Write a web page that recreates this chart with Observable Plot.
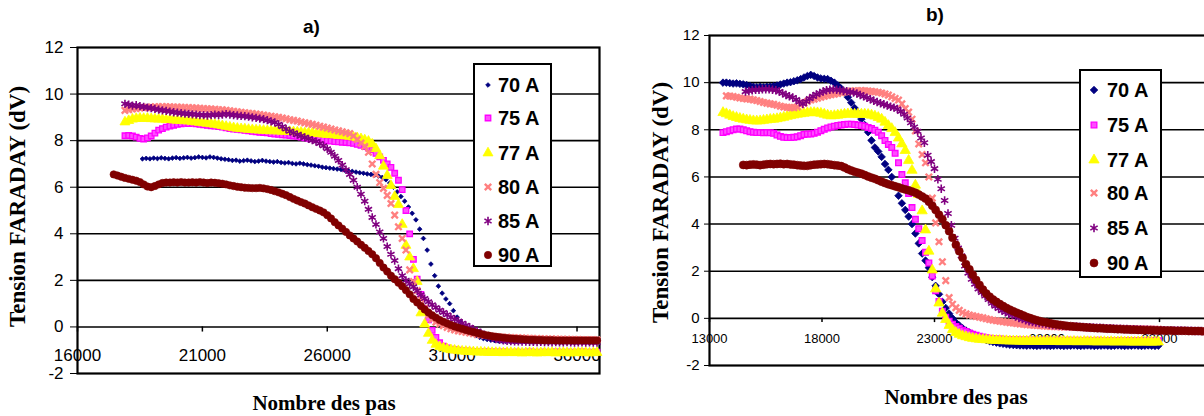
<!DOCTYPE html>
<html><head><meta charset="utf-8">
<script src="https://cdn.jsdelivr.net/npm/d3@7"></script>
<script src="https://cdn.jsdelivr.net/npm/@observablehq/plot@0.6"></script>
<style>
html,body{margin:0;padding:0;background:#fff;overflow:hidden;width:1204px;height:416px;}
#root{position:relative;width:1204px;height:416px;overflow:hidden;font-family:"Liberation Sans",Arial,sans-serif;color:#000;}
.abs{position:absolute;}
.ttl{position:absolute;font-weight:bold;font-size:19px;line-height:19px;white-space:nowrap;}
.ylab{position:absolute;font-family:"Liberation Serif","Times New Roman",serif;font-weight:bold;font-size:23px;line-height:23px;white-space:nowrap;transform-origin:0 0;transform:rotate(-90deg);}
.xtitle{position:absolute;font-family:"Liberation Serif","Times New Roman",serif;font-weight:bold;font-size:21px;line-height:21px;text-align:center;white-space:nowrap;}
.legend{position:absolute;background:#fff;border:2px solid #000;box-sizing:border-box;}
.lrow{position:absolute;font-weight:bold;font-size:20px;line-height:24px;white-space:nowrap;}
</style></head>
<body>
<div id="root">
  <div id="pa" class="abs" style="left:0;top:0;width:610px;height:380px"></div>
  <div id="pb" class="abs" style="left:640px;top:0;width:580px;height:370px"></div>
  <div class="ttl" style="left:303px;top:17px">a)</div>
  <div class="ttl" style="left:926px;top:5px">b)</div>
  <div class="ylab" style="left:6px;top:327px">Tension FARADAY (dV)</div>
  <div class="ylab" style="left:649px;top:323px">Tension FARADAY (dV)</div>
  <div class="xtitle" style="left:174px;top:393px;width:300px">Nombre des pas</div>
  <div class="xtitle" style="left:806px;top:387px;width:300px">Nombre des pas</div>
  <div id="lega" class="legend"></div>
  <div id="legb" class="legend"></div>
</div>
<script>
// ---------- data ----------
const seriesNames = ["70 A","75 A","77 A","80 A","85 A","90 A"];
const xTicksA = [16000,21000,26000,31000,36000];
const xTicksB = [13000,18000,23000,28000,33000];
const yTicks = [-2,0,2,4,6,8,10,12];
const gridY = [0,2,4,6,8,10];
const stepA = 150;
const stepB = 150;

// panel a) : first "Nombre des pas" of each series, then readings every stepA
const startsA = [18600,17900,17900,17900,17900,17450];
const a70 = [7.22,7.24,7.22,7.25,7.23,7.26,7.24,7.22,7.25,7.27,7.24,7.26,7.28,7.25,7.27,7.3,7.28,
 7.26,7.3,7.28,7.25,7.22,7.2,7.18,7.15,7.16,7.12,7.14,7.16,7.13,7.1,7.12,7.15,7.12,7.1,7.08,7.1,
 7.06,7.04,7.06,7.02,7.0,7.03,7.0,6.97,6.95,6.92,6.9,6.86,6.84,6.82,6.8,6.78,6.76,6.73,6.7,6.68,
 6.65,6.62,6.6,6.57,6.55,6.52,6.48,6.42,6.32,6.18,6.0,5.8,5.6,5.4,5.15,4.88,4.6,4.2,3.8,3.3,
 2.7,2.2,1.75,1.45,1.2,1.0,0.7,0.42,0.2,0,-0.15,-0.28,-0.38,-0.45,-0.5,-0.54,-0.57,-0.59,-0.6,-0.61,
 -0.62,-0.61,-0.62,-0.63,-0.62,-0.63,-0.62,-0.64,-0.63,-0.62,-0.63,-0.64,-0.63,-0.62,-0.63,-0.64,-0.63,-0.62,-0.63,-0.64,-0.63,-0.62,-0.63,-0.64,-0.63];
const a75 = [8.21,8.22,8.2,8.15,8.1,8.07,8.12,8.2,8.32,8.45,8.52,8.58,8.62,8.66,8.7,8.72,8.74,8.73,8.74,8.72,
 8.7,8.68,8.66,8.64,8.62,8.6,8.58,8.55,8.52,8.5,8.48,8.46,8.44,8.42,8.4,8.38,8.36,8.35,8.33,8.3,
 8.28,8.27,8.25,8.24,8.22,8.2,8.18,8.15,8.12,8.1,8.08,8.06,8.04,8.02,8.0,7.98,7.96,7.95,7.93,7.92,
 7.9,7.88,7.84,7.8,7.74,7.68,7.6,7.45,7.3,7.15,7.0,6.85,6.6,6.3,5.9,5.0,4.0,2.9,2.05,1.4,
 0.8,0.3,-0.15,-0.45,-0.68,-0.82,-0.9,-0.95,-0.98,-1.0,-1.02,-1.03,-1.04,-1.05,-1.05,-1.06,-1.06,-1.07,-1.07,-1.07,
 -1.08,-1.07,-1.08,-1.09,-1.08,-1.08,-1.09,-1.08,-1.07,-1.08,-1.09,-1.08,-1.08,-1.09,-1.08,-1.07,-1.08,-1.09,-1.08,-1.08,-1.09,-1.08,-1.07,-1.08,-1.09,-1.08,-1.08];
const a77 = [8.8,8.86,8.92,8.95,8.96,8.95,8.96,8.94,8.93,8.92,8.92,8.9,8.9,8.88,8.87,8.86,8.85,8.84,8.82,8.8,
 8.78,8.76,8.74,8.72,8.7,8.67,8.64,8.61,8.58,8.55,8.53,8.51,8.5,8.48,8.47,8.46,8.45,8.44,8.43,8.42,
 8.42,8.41,8.4,8.4,8.39,8.38,8.37,8.36,8.34,8.33,8.32,8.3,8.29,8.28,8.26,8.25,8.24,8.22,8.21,8.2,
 8.18,8.15,8.12,8.08,8.03,7.97,7.85,7.65,7.35,6.9,6.5,6.07,5.6,5.25,4.4,3.5,3.0,2.5,1.95,0.6,
 0.12,-0.28,-0.58,-0.75,-0.85,-0.9,-0.95,-0.98,-1.0,-1.02,-1.04,-1.05,-1.06,-1.07,-1.08,-1.08,-1.09,-1.09,-1.1,-1.1,
 -1.1,-1.11,-1.1,-1.1,-1.11,-1.1,-1.12,-1.11,-1.1,-1.11,-1.12,-1.11,-1.1,-1.11,-1.1,-1.12,-1.11,-1.1,-1.11,-1.12,-1.11,-1.1,-1.11,-1.1,-1.12,-1.11,-1.1];
const a80 = [9.3,9.33,9.36,9.38,9.4,9.42,9.43,9.44,9.45,9.45,9.46,9.45,9.45,9.44,9.44,9.43,9.42,9.42,9.41,9.4,
 9.39,9.38,9.37,9.36,9.35,9.33,9.32,9.3,9.28,9.26,9.24,9.22,9.2,9.18,9.16,9.14,9.12,9.1,9.07,9.05,
 9.02,9.0,8.97,8.94,8.9,8.87,8.84,8.8,8.77,8.73,8.7,8.66,8.62,8.58,8.54,8.5,8.46,8.42,8.38,8.34,
 8.3,8.2,8.05,7.9,7.75,7.5,7.0,6.55,6.2,5.95,5.65,5.3,4.8,4.3,3.8,3.3,2.45,1.95,1.56,1.2,
 0.8,0.5,0.32,0.2,0.12,0.05,-0.02,-0.08,-0.13,-0.17,-0.2,-0.23,-0.26,-0.29,-0.32,-0.34,-0.36,-0.38,-0.4,-0.42,
 -0.43,-0.44,-0.45,-0.46,-0.47,-0.47,-0.48,-0.49,-0.49,-0.5,-0.5,-0.51,-0.51,-0.52,-0.52,-0.52,-0.53,-0.53,-0.53,-0.54,-0.54,-0.54,-0.55,-0.55,-0.55,-0.55,-0.55];
const a85 = [9.58,9.55,9.5,9.52,9.48,9.45,9.42,9.4,9.36,9.33,9.3,9.28,9.25,9.22,9.2,9.18,9.16,9.15,9.13,9.12,
 9.1,9.1,9.08,9.1,9.12,9.1,9.12,9.14,9.12,9.1,9.08,9.06,9.05,9.03,9.0,8.98,8.95,8.92,8.88,8.83,
 8.78,8.7,8.6,8.5,8.4,8.33,8.26,8.2,8.14,8.08,8.02,7.96,7.88,7.78,7.65,7.5,7.33,7.15,6.95,6.75,
 6.55,6.3,6.0,5.7,5.4,5.05,4.7,4.4,4.08,3.8,3.45,3.12,2.85,2.5,2.2,2.0,1.85,1.72,1.55,1.38,
 1.22,1.08,0.95,0.83,0.72,0.62,0.52,0.42,0.33,0.25,0.16,0.07,-0.01,-0.1,-0.18,-0.26,-0.34,-0.41,-0.47,-0.52,
 -0.56,-0.58,-0.6,-0.61,-0.62,-0.62,-0.63,-0.63,-0.64,-0.64,-0.65,-0.64,-0.65,-0.65,-0.66,-0.65,-0.66,-0.66,-0.65,-0.66,-0.67,-0.66,-0.66,-0.67,-0.66,-0.67,-0.67];
const a90 = [6.55,6.5,6.45,6.4,6.36,6.32,6.28,6.22,6.12,6.03,6.0,6.05,6.12,6.18,6.2,6.2,6.21,6.2,6.22,6.2,
 6.2,6.21,6.2,6.22,6.2,6.18,6.2,6.19,6.17,6.15,6.12,6.08,6.05,6.02,6.0,5.98,5.97,5.96,5.96,5.97,
 5.95,5.92,5.88,5.83,5.78,5.72,5.66,5.58,5.5,5.43,5.36,5.3,5.22,5.14,5.07,5.0,4.92,4.8,4.66,4.5,
 4.36,4.22,4.08,3.93,3.8,3.67,3.53,3.4,3.26,3.12,2.95,2.75,2.55,2.38,2.2,2.05,1.9,1.75,1.58,1.4,
 1.2,1.05,0.9,0.75,0.62,0.5,0.4,0.3,0.22,0.15,0.08,0.02,-0.03,-0.08,-0.13,-0.18,-0.22,-0.26,-0.3,-0.34,
 -0.37,-0.4,-0.42,-0.44,-0.46,-0.48,-0.5,-0.51,-0.52,-0.53,-0.54,-0.55,-0.55,-0.56,-0.56,-0.57,-0.57,-0.57,-0.58,-0.58,-0.58,-0.58,-0.58,-0.58,-0.58,-0.58,-0.58,-0.58,-0.58,-0.58];

// panel b)
const startsB = [13600,13600,13600,13750,14600,14500];
const b70 = [10.0,10.0,9.98,9.96,9.97,9.95,9.93,9.9,9.86,9.82,9.8,9.82,9.8,9.82,9.83,9.85,9.88,9.92,9.96,10.0,
 10.02,10.06,10.1,10.15,10.22,10.28,10.33,10.28,10.22,10.18,10.16,10.15,10.08,10.0,9.88,9.75,9.6,9.38,9.15,8.92,
 8.7,8.45,8.2,7.9,7.55,7.25,7.08,6.85,6.55,6.3,6.0,5.6,5.2,4.88,4.6,4.32,4.0,3.6,3.18,2.75,
 2.45,2.15,1.75,1.38,1.02,0.7,0.44,0.2,0.0,-0.18,-0.3,-0.42,-0.52,-0.6,-0.67,-0.74,-0.8,-0.86,-0.92,-0.97,
 -1.0,-1.03,-1.06,-1.08,-1.1,-1.12,-1.13,-1.14,-1.15,-1.15,-1.16,-1.15,-1.16,-1.17,-1.16,-1.15,-1.16,-1.17,-1.16,-1.15,
 -1.16,-1.17,-1.16,-1.16,-1.15,-1.16,-1.17,-1.16,-1.15,-1.16,-1.17,-1.16,-1.16,-1.15,-1.16,-1.17,-1.16,-1.15,-1.16,-1.17,
 -1.16,-1.16,-1.15,-1.16,-1.17,-1.16,-1.15,-1.16,-1.17,-1.16];
const b75 = [7.88,7.92,7.96,8.0,8.03,8.03,8.0,7.96,7.92,7.9,7.88,7.88,7.87,7.88,7.87,7.85,7.78,7.72,7.68,7.67,
 7.67,7.68,7.7,7.75,7.8,7.82,7.82,7.85,7.9,7.96,8.02,8.08,8.12,8.15,8.18,8.2,8.22,8.24,8.24,8.22,
 8.2,8.18,8.15,8.1,8.05,7.98,7.9,7.75,7.55,7.38,7.25,7.0,6.6,6.1,5.75,5.3,4.7,4.2,3.8,3.3,
 2.8,2.35,1.8,1.17,0.72,0.3,0.05,-0.12,-0.25,-0.35,-0.42,-0.5,-0.56,-0.62,-0.67,-0.72,-0.76,-0.79,-0.82,-0.84,
 -0.86,-0.87,-0.88,-0.89,-0.9,-0.9,-0.91,-0.91,-0.92,-0.92,-0.92,-0.93,-0.92,-0.93,-0.93,-0.92,-0.93,-0.93,-0.94,-0.93,
 -0.93,-0.94,-0.93,-0.93,-0.94,-0.93,-0.94,-0.94,-0.93,-0.94,-0.94,-0.93,-0.94,-0.94,-0.95,-0.94,-0.94,-0.95,-0.94,-0.94,
 -0.95,-0.94,-0.95,-0.95,-0.94,-0.95,-0.95,-0.94,-0.95,-0.95];
const b77 = [8.73,8.68,8.62,8.56,8.52,8.48,8.45,8.42,8.4,8.38,8.37,8.38,8.4,8.42,8.44,8.45,8.47,8.5,8.53,8.57,
 8.6,8.63,8.66,8.68,8.7,8.72,8.73,8.73,8.72,8.7,8.66,8.62,8.59,8.6,8.62,8.64,8.66,8.67,8.67,8.66,
 8.66,8.66,8.66,8.65,8.62,8.58,8.52,8.45,8.32,8.18,8.05,7.88,7.65,7.4,7.12,6.7,6.28,5.65,5.25,4.56,
 3.75,2.85,2.05,1.25,0.65,0.22,-0.05,-0.3,-0.48,-0.6,-0.68,-0.74,-0.78,-0.82,-0.85,-0.87,-0.89,-0.9,-0.91,-0.92,
 -0.93,-0.94,-0.94,-0.95,-0.95,-0.96,-0.96,-0.96,-0.97,-0.97,-0.97,-0.97,-0.98,-0.97,-0.98,-0.98,-0.97,-0.98,-0.98,-0.98,
 -0.99,-0.98,-0.98,-0.99,-0.98,-0.99,-0.99,-0.98,-0.99,-0.99,-0.99,-1.0,-0.99,-0.99,-1.0,-0.99,-1.0,-1.0,-0.99,-1.0,
 -1.0,-1.0,-1.01,-1.0,-1.0,-1.01,-1.0,-1.01,-1.01,-1.0];
const b80 = [9.44,9.43,9.41,9.38,9.35,9.33,9.31,9.3,9.27,9.24,9.2,9.16,9.13,9.1,9.08,9.04,9.0,8.97,8.95,8.94,
 8.94,8.97,9.05,9.13,9.2,9.26,9.3,9.34,9.38,9.42,9.46,9.49,9.51,9.54,9.57,9.6,9.62,9.64,9.65,9.65,
 9.66,9.65,9.64,9.63,9.61,9.59,9.56,9.52,9.47,9.4,9.33,9.26,9.1,8.9,8.75,8.45,7.95,7.4,6.95,6.6,
 6.0,5.1,4.05,3.25,2.4,1.6,0.88,0.6,0.45,0.34,0.25,0.19,0.14,0.11,0.08,0.05,0.02,-0.02,-0.05,-0.08,
 -0.1,-0.12,-0.14,-0.16,-0.18,-0.2,-0.22,-0.24,-0.25,-0.27,-0.28,-0.29,-0.3,-0.31,-0.32,-0.33,-0.34,-0.34,-0.35,-0.36,
 -0.36,-0.37,-0.37,-0.38,-0.38,-0.39,-0.39,-0.4,-0.4,-0.41,-0.41,-0.41,-0.42,-0.42,-0.42,-0.43,-0.43,-0.43,-0.44,-0.44,
 -0.44,-0.44,-0.45,-0.45,-0.45,-0.45,-0.46,-0.46,-0.46];
const b85 = [9.62,9.65,9.68,9.7,9.7,9.72,9.72,9.72,9.7,9.68,9.62,9.55,9.48,9.42,9.37,9.28,9.18,9.1,9.2,9.32,
 9.42,9.5,9.56,9.62,9.68,9.7,9.72,9.7,9.68,9.66,9.63,9.6,9.58,9.54,9.48,9.42,9.36,9.3,9.23,9.18,
 9.13,9.08,9.03,8.98,8.94,8.88,8.78,8.66,8.5,8.3,8.12,7.93,7.65,7.45,6.92,6.65,6.35,5.9,5.5,5.0,
 4.45,3.95,3.4,2.98,2.65,2.22,1.92,1.66,1.45,1.25,1.1,0.95,0.8,0.64,0.52,0.42,0.33,0.26,0.2,0.15,
 0.08,0.02,-0.03,-0.08,-0.12,-0.15,-0.18,-0.2,-0.22,-0.24,-0.26,-0.28,-0.29,-0.3,-0.31,-0.32,-0.33,-0.34,-0.35,-0.36,
 -0.37,-0.38,-0.38,-0.39,-0.4,-0.4,-0.41,-0.42,-0.42,-0.43,-0.44,-0.44,-0.45,-0.45,-0.46,-0.46,-0.47,-0.47,-0.48,-0.48,
 -0.49,-0.49,-0.5,-0.5,-0.5,-0.51,-0.51,-0.52,-0.52,-0.52,-0.53,-0.53,-0.53,-0.54,-0.54,-0.54,-0.55];
const b90 = [6.51,6.5,6.52,6.53,6.52,6.5,6.52,6.54,6.55,6.54,6.55,6.56,6.54,6.55,6.53,6.52,6.5,6.48,6.47,6.47,
 6.5,6.52,6.53,6.54,6.55,6.54,6.52,6.5,6.48,6.46,6.4,6.33,6.27,6.22,6.18,6.14,6.08,6.02,5.97,5.92,
 5.86,5.8,5.74,5.69,5.65,5.6,5.56,5.51,5.47,5.43,5.38,5.33,5.25,5.17,5.08,4.95,4.78,4.6,4.4,4.2,
 3.95,3.7,3.42,3.12,2.85,2.57,2.3,2.08,1.85,1.63,1.42,1.22,1.05,0.92,0.8,0.7,0.61,0.52,0.44,0.37,
 0.3,0.24,0.18,0.12,0.06,0.01,-0.04,-0.08,-0.12,-0.15,-0.18,-0.21,-0.24,-0.26,-0.28,-0.3,-0.32,-0.33,-0.35,-0.36,
 -0.37,-0.38,-0.39,-0.4,-0.41,-0.42,-0.42,-0.43,-0.44,-0.44,-0.45,-0.46,-0.46,-0.47,-0.47,-0.48,-0.48,-0.49,-0.49,-0.5,
 -0.5,-0.5,-0.51,-0.51,-0.51,-0.52,-0.52,-0.52,-0.53,-0.53,-0.53,-0.53,-0.54,-0.54,-0.54,-0.54,-0.55];

// ---------- styles ----------
const colors = ["#000080","#ff00ff","#ffff00","#ff8080","#800080","#800000"];
const symbols = ["diamond2","square","triangle","times","asterisk","circle"];
const sizesA = [2.1,3.1,3.7,3.0,3.9,3.7];
const sizesB = [3.4,3.2,3.8,3.0,4.0,4.0];
const fills = ["#000080","#ff4dff","#ffff00","none","none","#800000"];
const strokeWidths = [0.8,1.3,0.8,2.4,1.6,0.6];

function tidy(starts, step, arrays) {
  return arrays.flatMap((vals, k) => vals.map((v, i) => ({x: starts[k] + i * step, y: v, s: seriesNames[k]})));
}
const dataA = tidy(startsA, stepA, [a70,a75,a77,a80,a85,a90]);
const dataB = tidy(startsB, stepB, [b70,b75,b77,b80,b85,b90]);

function seriesMarks(data, sizes) {
  return seriesNames.map((name, k) => Plot.dot(data.filter(d => d.s === name), {
    x: "x", y: "y", symbol: symbols[k], r: sizes[k],
    fill: fills[k], stroke: colors[k], strokeWidth: strokeWidths[k]
  }));
}

function panel(o) {
  return Plot.plot({
    width: o.width, height: o.height,
    marginLeft: o.ml, marginRight: o.mr, marginTop: o.mt, marginBottom: o.mb,
    style: {background: "transparent", maxWidth: "none", overflow: "visible",
            fontFamily: "'Liberation Sans', Arial, sans-serif", fontSize: o.yFont + "px", color: "#000"},
    x: {domain: o.xDomain, axis: null},
    y: {domain: [-2, 12], ticks: yTicks, tickFormat: d => String(d), tickSize: o.tickSize,
        tickPadding: o.tickPadding, label: null},
    marks: [
      Plot.ruleY(gridY, {stroke: "#000", strokeWidth: 1.6}),
      Plot.frame({stroke: "#000", strokeWidth: 2.2}),
      Plot.ruleX(o.xTicks, {x: d => d, y1: 0, y2: o.tickLen, stroke: "#000", strokeWidth: 1.5}),
      Plot.text(o.xTicks, {x: d => d, y: 0, dy: o.xLabelDy, text: d => String(d), fontSize: o.xFont, fill: "#000"}),
      ...seriesMarks(o.data, o.sizes)
    ]
  });
}

document.getElementById("pa").appendChild(panel({
  width: 610, height: 380, ml: 77, mr: 11, mt: 47, mb: 7,
  xDomain: [16000, 36900], xTicks: xTicksA, data: dataA, sizes: sizesA,
  yFont: 17, xFont: 17, tickSize: 7, tickPadding: 7, tickLen: -0.22, xLabelDy: 29
}));
document.getElementById("pb").appendChild(panel({
  width: 580, height: 370, ml: 69, mr: 11.5, mt: 35, mb: 5,
  xDomain: [13000, 35200], xTicks: xTicksB, data: dataB, sizes: sizesB,
  yFont: 15, xFont: 13, tickSize: 5, tickPadding: 5, tickLen: -0.18, xLabelDy: 20
}));

// ---------- legends ----------
const symbolTypes = {diamond2: d3.symbolDiamond2, square: d3.symbolSquare, triangle: d3.symbolTriangle,
  times: d3.symbolTimes, asterisk: d3.symbolAsterisk, circle: d3.symbolCircle};
function legend(id, box, rows, markerX, textX, sizes) {
  const el = document.getElementById(id);
  Object.assign(el.style, {left: box[0] + "px", top: box[1] + "px", width: box[2] + "px", height: box[3] + "px"});
  seriesNames.forEach((name, k) => {
    const cy = rows[k] - box[1] - 2;
    const r = sizes[k];
    const path = d3.symbol(symbolTypes[symbols[k]], Math.PI * r * r)();
    const s = document.createElement("div");
    s.style.cssText = `position:absolute;left:${markerX - box[0] - 2 - 10}px;top:${cy - 10}px;width:20px;height:20px`;
    s.innerHTML = `<svg width="20" height="20"><path transform="translate(10,10)" d="${path}" fill="${fills[k]}" stroke="${colors[k]}" stroke-width="${strokeWidths[k]}"/></svg>`;
    el.appendChild(s);
    const t = document.createElement("div");
    t.className = "lrow";
    t.style.left = (textX - box[0] - 2) + "px";
    t.style.top = (cy - 12) + "px";
    t.textContent = name;
    el.appendChild(t);
  });
}
legend("lega", [473, 63, 79, 204], [85,118,153,187,221,255], 488, 498, sizesA);
legend("legb", [1079, 69, 83, 209], [90,125,160,193,228,263], 1094, 1107, sizesB);
</script>
</body></html>
